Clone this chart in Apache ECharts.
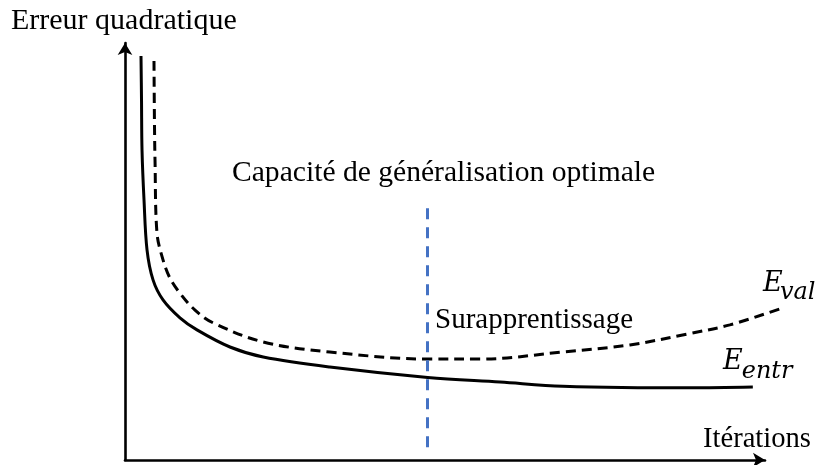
<!DOCTYPE html>
<html>
<head>
<meta charset="utf-8">
<script src="https://cdn.jsdelivr.net/npm/echarts@6/dist/echarts.min.js"></script>
<style>
  html, body { margin: 0; padding: 0; background: #fff; }
  #chart { width: 818px; height: 465px; }
</style>
</head>
<body>
<div id="chart"></div>
<script>
// Training error curve (solid)
const iterTrain = [2.5, 2.58, 2.66, 2.97, 3.44, 4.38, 5.94, 8.59, 11.25, 16.4, 21.6, 32.0, 47.3, 58.6, 68.4, 88.3, 98.1];
const errTrain  = [96.9, 86.3, 74.3, 62.4, 50.4, 43.2, 38.4, 34.1, 31.2, 27.1, 24.7, 22.3, 19.8, 18.7, 17.7, 17.3, 17.5];

// Validation error curve (dashed)
const iterVal = [4.53, 4.6, 4.69, 5.0, 5.94, 7.03, 8.59, 10.9, 13.75, 21.6, 32.0, 47.7, 55.5, 68.4, 78.9, 87.8, 94.5, 102.8];
const errVal  = [95.7, 81.5, 71.9, 54.4, 48.0, 43.6, 40.0, 36.0, 32.9, 28.3, 25.9, 24.2, 24.2, 25.9, 27.6, 30.2, 32.4, 36.5];

// Optimal stopping point marker
const optimumIter = 47.3;
const optimumSpan = [60.4, 1.9];

// Visible axes span 0..100; the curves' own (hidden) axes extend a little further
// on the right so the validation curve can run past the arrow head.
const axisMin = 0, axisMax = 100, curveAxisMax = 105;

const serif = '"Liberation Serif", "Times New Roman", serif';
const mathFont = '"DejaVu Serif", serif';

const pairs = (xs, ys) => xs.map((x, i) => [x, ys[i]]);

const chart = echarts.init(document.getElementById('chart'));

const axisLineStyle = {
  show: true,
  symbol: ['none', 'arrow'],
  symbolSize: [11, 12],
  lineStyle: { color: '#000', width: 2.6 }
};
const hidden = {
  axisLine: { show: false }, axisTick: { show: false },
  axisLabel: { show: false }, splitLine: { show: false }
};

const plotLeft = 125, plotTop = 43, plotBottom = 5, axisWidth = 640;

chart.setOption({
  animation: false,
  backgroundColor: '#fff',
  grid: [
    { left: plotLeft, width: axisWidth, top: plotTop, bottom: plotBottom },
    { left: plotLeft, width: axisWidth * curveAxisMax / axisMax, top: plotTop, bottom: plotBottom }
  ],
  xAxis: [
    { type: 'value', gridIndex: 0, min: axisMin, max: axisMax, axisLine: axisLineStyle,
      axisTick: { show: false }, axisLabel: { show: false }, splitLine: { show: false } },
    Object.assign({ type: 'value', gridIndex: 1, min: axisMin, max: curveAxisMax }, hidden)
  ],
  yAxis: [
    { type: 'value', gridIndex: 0, min: axisMin, max: axisMax, axisLine: axisLineStyle,
      axisTick: { show: false }, axisLabel: { show: false }, splitLine: { show: false } },
    Object.assign({ type: 'value', gridIndex: 1, min: axisMin, max: axisMax }, hidden)
  ],
  series: [
    {
      name: 'E_entr',
      type: 'line',
      xAxisIndex: 1, yAxisIndex: 1,
      data: pairs(iterTrain, errTrain),
      smooth: 0.35,
      symbol: 'none',
      clip: false,
      lineStyle: { color: '#000', width: 3 },
      markLine: {
        silent: true,
        symbol: 'none',
        label: { show: false },
        lineStyle: { color: '#4472C4', width: 3, type: [11, 8] },
        data: [[
          { coord: [optimumIter, optimumSpan[0]] },
          { coord: [optimumIter, optimumSpan[1]] }
        ]]
      }
    },
    {
      name: 'E_val',
      type: 'line',
      xAxisIndex: 1, yAxisIndex: 1,
      data: pairs(iterVal, errVal),
      smooth: 0.35,
      symbol: 'none',
      clip: false,
      lineStyle: { color: '#000', width: 3, type: [10, 6] }
    }
  ],
  graphic: [
    { type: 'text', x: 11, y: 21.5, style: { text: 'Erreur quadratique', font: '30px ' + serif, fill: '#000', verticalAlign: 'middle' } },
    { type: 'text', x: 232, y: 173, style: { text: 'Capacité de généralisation optimale', font: '29.6px ' + serif, fill: '#000', verticalAlign: 'middle' } },
    { type: 'text', x: 435, y: 320, style: { text: 'Surapprentissage', font: '29px ' + serif, fill: '#000', verticalAlign: 'middle' } },
    { type: 'text', x: 703, y: 439.4, style: { text: 'Itérations', font: '28.6px ' + serif, fill: '#000', verticalAlign: 'middle' } },
    { type: 'text', x: 763, y: 284, style: { text: 'E', font: 'italic 27px ' + mathFont, fill: '#000', verticalAlign: 'middle' } },
    { type: 'text', x: 780, y: 292.8, style: { text: 'val', font: 'italic 24px ' + mathFont, fill: '#000', verticalAlign: 'middle' } },
    { type: 'text', x: 723, y: 362.4, style: { text: 'E', font: 'italic 27px ' + mathFont, fill: '#000', verticalAlign: 'middle' } },
    { type: 'text', x: 741.7, y: 371.8, style: { text: 'entr', font: 'italic 24px ' + mathFont, fill: '#000', verticalAlign: 'middle' } }
  ]
});
</script>
</body>
</html>
